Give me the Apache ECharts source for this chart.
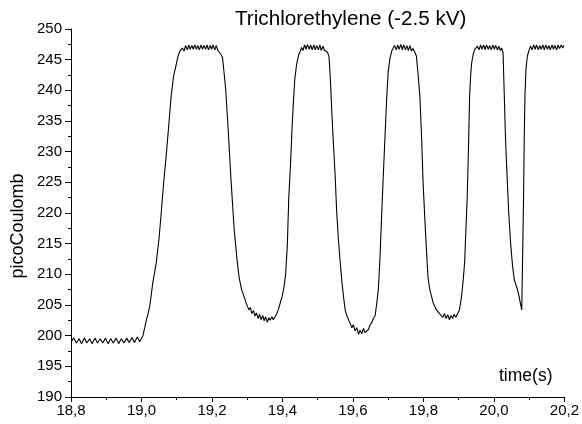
<!DOCTYPE html>
<html>
<head>
<meta charset="utf-8">
<script src="https://cdn.jsdelivr.net/npm/echarts@6/dist/echarts.min.js"></script>
<style>html,body{margin:0;padding:0;background:#fff}#c{width:582px;height:424px}</style>
</head>
<body>
<div id="c"></div>
<script>
const titleText = 'Trichlorethylene (-2.5 kV)';
const xName = 'time(s)';
const yName = 'picoCoulomb';
const xTicks = [18.8, 19.0, 19.2, 19.4, 19.6, 19.8, 20.0, 20.2];
const yTicks = [190, 195, 200, 205, 210, 215, 220, 225, 230, 235, 240, 245, 250];

const baseline = [
[18.800,199.0],[18.808,199.6],[18.815,198.8],[18.823,199.5],[18.830,198.7],[18.838,199.6],[18.845,198.8],
[18.853,199.5],[18.860,198.7],[18.868,199.6],[18.875,198.8],[18.883,199.5],[18.890,198.8],[18.898,199.6],
[18.905,198.7],[18.913,199.5],[18.920,198.8],[18.928,199.6],[18.935,198.7],[18.943,199.5],[18.950,198.8],
[18.958,199.6],[18.965,198.9],[18.973,199.7],[18.980,198.9],[18.988,199.8],[18.995,199.0],[19.000,199.0]
];
const pulse1 = [
[19.004,200.0],[19.010,201.5],[19.014,202.6],[19.018,203.4],[19.024,205.0],[19.032,208.6],[19.042,211.9],
[19.050,216],[19.056,220],[19.063,225],[19.070,229.3],[19.077,234],[19.084,239],[19.091,242.3],[19.097,243.8],
[19.103,245.4],[19.108,246.3],[19.112,246.0],
[19.116,246.9],[19.121,246.4],[19.125,247.3],[19.130,246.6],[19.134,247.4],[19.138,246.7],[19.143,247.3],
[19.147,246.7],[19.151,247.4],[19.156,246.7],[19.160,247.3],[19.164,246.6],[19.169,247.4],[19.173,246.7],
[19.177,247.3],[19.182,246.7],[19.186,247.4],[19.190,246.6],[19.195,247.3],[19.199,246.7],[19.203,247.4],
[19.208,246.6],[19.212,247.3],[19.217,246.5],[19.221,246.3],[19.226,245.8],[19.230,245.3],[19.235,242.5],
[19.239,240.1],[19.246,233.6],[19.254,225.4],[19.263,217.3],[19.272,211.9],[19.277,209.5],[19.284,207.5],
[19.291,206.4],[19.297,205.3]
];
const trough1 = [
[19.301,205.0],[19.305,204.2],[19.309,204.6],[19.313,203.6],[19.318,204.1],[19.322,203.2],[19.326,203.7],
[19.331,202.8],[19.335,203.5],[19.339,202.6],[19.344,203.3],[19.348,202.4],[19.352,203.1],[19.357,202.2],
[19.361,202.9],[19.365,202.5],[19.370,203.1],[19.374,202.6],[19.378,202.9],[19.383,203.5],[19.388,204.2],
[19.393,205.2],[19.399,206.4],[19.404,207.8],[19.409,210],[19.414,215],[19.418,222.7],[19.423,228],
[19.427,233.6],[19.431,238],[19.435,241.8],[19.440,244.2],[19.446,245.8]
];
const pulse2 = [
[19.450,246.3],[19.454,247.0],[19.458,246.5],[19.463,247.4],[19.467,246.7],[19.471,247.5],[19.476,246.7],
[19.480,247.4],[19.484,246.6],[19.489,247.4],[19.493,246.6],[19.497,247.3],[19.502,246.6],[19.506,247.4],
[19.510,246.5],[19.515,247.2],[19.519,246.5],[19.524,246.7],[19.528,246.2],[19.532,245.5],[19.536,241.8],
[19.540,236.5],[19.545,230.9],[19.550,225.5],[19.554,220],[19.559,215.5],[19.564,211.9],[19.569,208.6],
[19.574,206.0],[19.578,204.2],[19.583,203.2],[19.587,202.9],[19.592,202.0],[19.597,201.3],[19.601,201.8],
[19.606,200.8],[19.611,201.3],[19.616,200.2],[19.620,200.9],[19.625,200.3],[19.630,201.2],[19.634,200.5],
[19.639,200.4],[19.644,201.0],[19.649,201.8],[19.654,202.2],[19.658,202.8],[19.663,203.3],[19.667,205.0],
[19.672,207.5],[19.677,213],[19.681,219],[19.686,226],[19.691,232.5],[19.696,239],[19.700,243],
[19.705,245.2],[19.710,246.4]
];
const pulse3 = [
[19.714,246.6],[19.718,247.3],[19.723,246.6],[19.727,247.4],[19.731,246.7],[19.736,247.5],[19.740,246.6],
[19.744,247.4],[19.749,246.6],[19.753,247.3],[19.757,246.5],[19.762,247.3],[19.766,246.4],[19.770,246.8],
[19.775,246.3],[19.780,245.6],[19.785,242.5],[19.790,239],[19.795,232],[19.799,225],[19.804,219],
[19.808,214.6],[19.813,209.5],[19.818,207.5],[19.823,206.4],[19.828,205.3],[19.833,205.0],[19.837,204.2],
[19.842,204.4],[19.846,203.6],[19.851,203.9],[19.855,203.0],[19.860,203.6],[19.864,202.8],[19.869,203.4],
[19.874,202.6],[19.878,203.3],[19.883,202.8],[19.887,203.5],[19.892,203.0],[19.897,203.6],[19.902,204.2],
[19.907,205.9],[19.912,208.5],[19.917,212],[19.921,218],[19.924,222.2],[19.928,231],[19.931,239],
[19.934,242.5],[19.937,244.5],[19.941,245.8],[19.945,246.6]
];
const pulse4 = [
[19.949,246.4],[19.953,247.2],[19.958,246.6],[19.962,247.4],[19.966,246.7],[19.971,247.4],[19.975,246.6],
[19.979,247.4],[19.984,246.7],[19.988,247.3],[19.992,246.6],[19.997,247.4],[20.001,246.7],[20.005,247.3],
[20.010,246.6],[20.014,247.2],[20.018,246.5],[20.022,246.9],[20.026,246.1],[20.029,240],[20.033,232],
[20.037,226.5],[20.042,220],[20.048,214.6],[20.053,211.3],[20.058,209.1],[20.063,208.2],[20.067,207.5],
[20.071,206.5],[20.075,205.3],[20.079,204.2],[20.082,215],[20.084,222.2],[20.086,232],[20.088,239],
[20.091,243.5],[20.095,245.6],[20.100,246.6]
];
const pulse5 = [
[20.104,247.2],[20.108,246.6],[20.113,247.4],[20.117,246.7],[20.121,247.4],[20.126,246.6],[20.130,247.3],
[20.134,246.7],[20.139,247.4],[20.143,246.6],[20.147,247.4],[20.152,246.7],[20.156,247.3],[20.160,246.6],
[20.165,247.4],[20.169,246.7],[20.173,247.3],[20.178,246.6],[20.182,247.4],[20.186,246.8],[20.191,247.4],
[20.195,246.9],[20.199,247.3]
];

const data = [].concat(baseline, pulse1, trough1, pulse2, pulse3, pulse4, pulse5);
const FONT = '"Liberation Sans", Arial, sans-serif';

const chart = echarts.init(document.getElementById('c'), null, {renderer: 'canvas'});
chart.setOption({
  animation: false,
  backgroundColor: '#fff',
  grid: {left: 71, right: 15, top: 29, bottom: 27, containLabel: false},
  xAxis: {
    type: 'value', min: xTicks[0], max: xTicks[xTicks.length - 1], interval: 0.2,
    axisLine: {show: true, onZero: false, lineStyle: {color: '#000', width: 1}},
    axisTick: {show: true, inside: false, length: 5, lineStyle: {color: '#000'}},
    minorTick: {show: true, splitNumber: 2, length: 3, lineStyle: {color: '#000'}},
    splitLine: {show: false},
    axisLabel: {color: '#000', fontSize: 15, fontFamily: FONT, margin: 6,
      formatter: v => v.toFixed(1).replace('.', ',')}
  },
  yAxis: {
    type: 'value', min: yTicks[0], max: yTicks[yTicks.length - 1], interval: 5,
    axisLine: {show: true, onZero: false, lineStyle: {color: '#000', width: 1}},
    axisTick: {show: true, inside: false, length: 6, lineStyle: {color: '#000'}},
    minorTick: {show: true, splitNumber: 2, length: 3, lineStyle: {color: '#000'}},
    splitLine: {show: false},
    axisLabel: {color: '#000', fontSize: 15, fontFamily: FONT, margin: 9,
      formatter: v => String(v)}
  },
  graphic: [
    {type: 'text', left: 235, top: 9, style: {text: titleText, fill: '#000', font: '20.7px ' + FONT}},
    {type: 'text', left: 499, top: 367, style: {text: xName, fill: '#000', font: '17.5px ' + FONT}},
    {type: 'text', x: 18, y: 226, rotation: Math.PI / 2,
      style: {text: yName, fill: '#000', font: '18px ' + FONT, align: 'center', verticalAlign: 'middle'}}
  ],
  series: [{
    type: 'line', data: data, showSymbol: false, symbol: 'none',
    lineStyle: {color: '#000', width: 1.1}, smooth: false
  }]
});
</script>
</body>
</html>
